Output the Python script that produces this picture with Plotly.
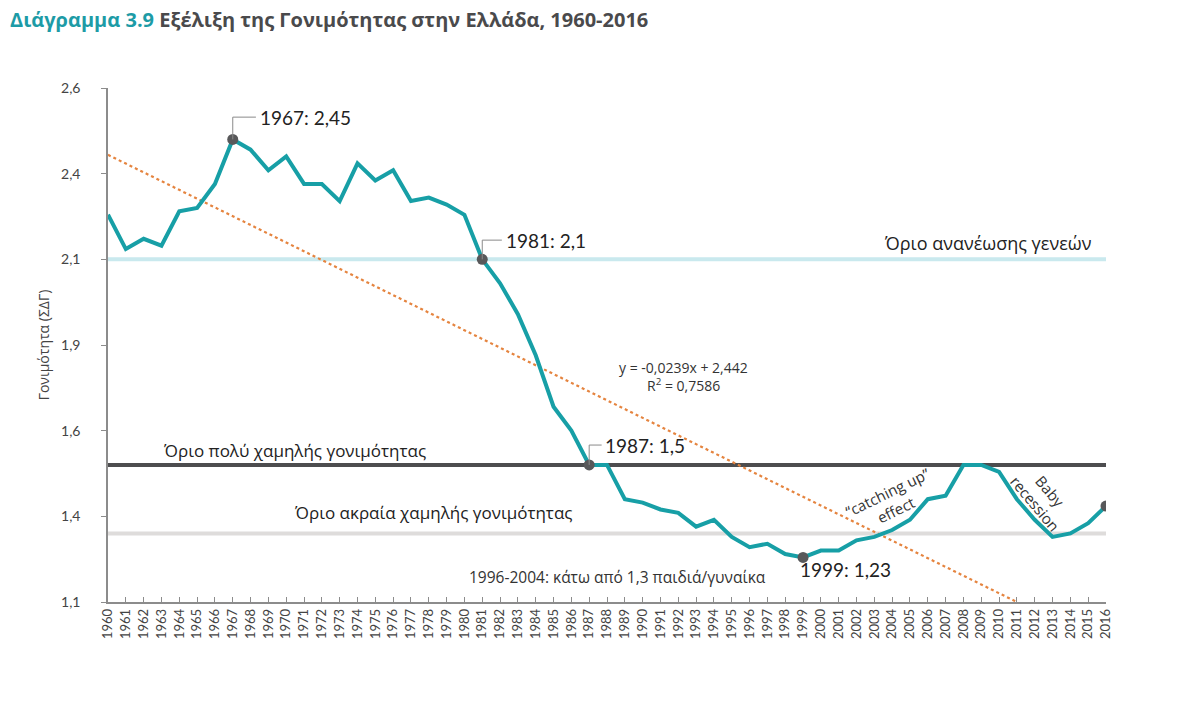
import plotly.graph_objects as go

years = list(range(1960, 2017))
tfr = [2.23, 2.13, 2.16, 2.14, 2.24, 2.25, 2.32, 2.45, 2.42, 2.36,
       2.40, 2.32, 2.32, 2.27, 2.38, 2.33, 2.36, 2.27, 2.28, 2.26,
       2.23, 2.10, 2.03, 1.94, 1.82, 1.67, 1.60, 1.50, 1.50, 1.40,
       1.39, 1.37, 1.36, 1.32, 1.34, 1.29, 1.26, 1.27, 1.24, 1.23,
       1.25, 1.25, 1.28, 1.29, 1.31, 1.34, 1.40, 1.41, 1.50, 1.50,
       1.48, 1.40, 1.34, 1.29, 1.30, 1.33, 1.38]

highlight_years = [1967, 1981, 1987, 1999, 2016]

trend_years = [1960, 2011]
trend_vals = [2.405, 1.10]

thresholds = [2.1, 1.5, 1.3]
threshold_colors = ["#c9e9ee", "#4d4d4f", "#dedcdb"]

ytick_vals = [1.1, 1.35, 1.6, 1.85, 2.1, 2.35, 2.6]
ytick_text = ["1,1", "1,4", "1,6", "1,9", "2,1", "2,4", "2,6"]

TEAL = "#179fa6"
DARK = "#58585a"
TXT = "#333333"
FONT = "Lato"
WIDE = "Open Sans"

fig = go.Figure()

for v, c in zip(thresholds, threshold_colors):
    fig.add_trace(go.Scatter(x=[years[0], years[-1]], y=[v, v], mode="lines",
                             line=dict(color=c, width=4), hoverinfo="skip",
                             showlegend=False))

fig.add_trace(go.Scatter(x=trend_years, y=trend_vals, mode="lines",
                         line=dict(color="#e5843f", width=2.2, dash="dot"),
                         showlegend=False, hoverinfo="skip"))

fig.add_trace(go.Scatter(x=years, y=tfr, mode="lines",
                         line=dict(color=TEAL, width=4),
                         showlegend=False))

hv = [tfr[years.index(y)] for y in highlight_years]
fig.add_trace(go.Scatter(x=highlight_years, y=hv, mode="markers",
                         marker=dict(color=DARK, size=11),
                         showlegend=False))

# leader-line labels
leaders = [(1967, "1967: 2,45", 0.065, 1.3),
           (1981, "1981: 2,1", 0.056, 1.1),
           (1987, "1987: 1,5", 0.058, 0.7)]
for yr, label, up, right in leaders:
    v = tfr[years.index(yr)]
    fig.add_shape(type="path",
                  path=f"M {yr} {v} L {yr} {v + up} L {yr + right} {v + up}",
                  line=dict(color="#8a8a8a", width=1), xref="x", yref="y")
    fig.add_annotation(x=yr + right + 0.1, y=v + up, text=label, showarrow=False,
                       xanchor="left", yanchor="middle",
                       font=dict(family=FONT, size=19, color="#222222"))

fig.add_annotation(x=2001.4, y=1.194, text="1999: 1,23", showarrow=False,
                   xanchor="center", yanchor="middle",
                   font=dict(family=FONT, size=19, color="#222222"))

# threshold labels
fig.add_annotation(x=2015.3, y=2.148, text="Όριο ανανέωσης γενεών", showarrow=False,
                   xanchor="right", yanchor="middle",
                   font=dict(family=WIDE, size=18, color="#222222"))
fig.add_annotation(x=1963.0, y=1.543, text="Όριο πολύ χαμηλής γονιμότητας", showarrow=False,
                   xanchor="left", yanchor="middle",
                   font=dict(family=WIDE, size=17, color="#222222"))
fig.add_annotation(x=1970.3, y=1.362, text="Όριο ακραία χαμηλής γονιμότητας", showarrow=False,
                   xanchor="left", yanchor="middle",
                   font=dict(family=WIDE, size=17, color="#222222"))
fig.add_annotation(x=1988.6, y=1.173, text="1996-2004: κάτω από 1,3 παιδιά/γυναίκα",
                   showarrow=False, xanchor="center", yanchor="middle",
                   font=dict(family=WIDE, size=15.5, color=TXT))
fig.add_annotation(x=1992.3, y=1.785, text="y = -0,0239x + 2,442",
                   showarrow=False, xanchor="center", yanchor="middle",
                   font=dict(family=WIDE, size=14, color=TXT))
fig.add_annotation(x=1992.3, y=1.733, text="R<sup>2</sup> = 0,7586",
                   showarrow=False, xanchor="center", yanchor="middle",
                   font=dict(family=WIDE, size=14, color=TXT))
fig.add_annotation(x=2004.0, y=1.395, text="“catching up”<br>effect", showarrow=False,
                   textangle=-26, xanchor="center", yanchor="middle",
                   font=dict(family=WIDE, size=15, color=TXT))
fig.add_annotation(x=2012.4, y=1.405, text="Baby<br>recession", showarrow=False,
                   textangle=50, xanchor="center", yanchor="middle",
                   font=dict(family=WIDE, size=15, color=TXT))

fig.update_layout(
    width=1181, height=710,
    margin=dict(l=108, r=75, t=88, b=108),
    paper_bgcolor="white", plot_bgcolor="white",
    font=dict(family=FONT, color=TXT),
    title=dict(
        text="<b><span style='color:#1d9ba6'>Διάγραμμα 3.9</span> "
             "<span style='color:#4a4a4c'>Εξέλιξη της Γονιμότητας στην Ελλάδα, 1960-2016</span></b>",
        x=10 / 1181, xref="container", xanchor="left",
        y=1 - 20 / 710, yref="container", yanchor="middle",
        font=dict(family=WIDE, size=20)),
    xaxis=dict(range=[1960, 2016], tickmode="array", tickvals=years,
               ticktext=[str(y) for y in years], tickangle=-90,
               showgrid=False, zeroline=False, showline=True,
               linecolor="#8c8c8c", linewidth=1.5,
               ticks="inside", ticklen=5, tickcolor="#8c8c8c",
               tickfont=dict(family=FONT, size=13, color="#444444")),
    yaxis=dict(range=[1.1, 2.6], tickmode="array", tickvals=ytick_vals,
               ticktext=ytick_text, showgrid=False, zeroline=False,
               showline=True, linecolor="#8c8c8c", linewidth=1.5,
               ticks="outside", ticklen=5, tickcolor="#8c8c8c",
               ticklabelstandoff=18,
               tickfont=dict(family=FONT, size=14, color="#444444")),
)
fig.update_yaxes(title=dict(text="Γονιμότητα (ΣΔΓ)", standoff=8,
                            font=dict(family=WIDE, size=14, color="#444444")))

fig.write_html("out.html")
